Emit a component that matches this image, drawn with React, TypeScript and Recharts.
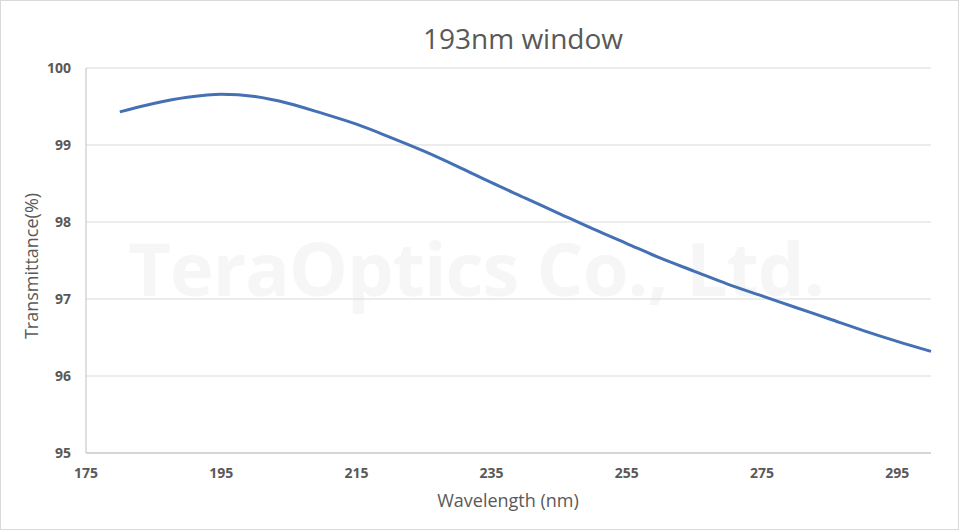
import React from 'react'
import { LineChart, Line, XAxis, YAxis, CartesianGrid } from 'recharts'

const wavelengths = [180, 185, 190, 195, 200, 205, 210, 215, 220, 225, 230, 235, 240, 245, 250, 255, 260, 265, 270, 275, 280, 285, 290, 295, 300]
const transmittance = [99.43, 99.54, 99.62, 99.66, 99.63, 99.54, 99.41, 99.27, 99.1, 98.92, 98.72, 98.51, 98.31, 98.11, 97.91, 97.72, 97.53, 97.36, 97.19, 97.04, 96.89, 96.74, 96.59, 96.45, 96.32]
const xTicks = [175, 195, 215, 235, 255, 275, 295]
const yTicks = [95, 96, 97, 98, 99, 100]

const data = wavelengths.map((w, i) => ({ w, t: transmittance[i] }))

const font = '"Open Sans", "Noto Sans", sans-serif'
const tickStyle = { fill: '#595959', fontSize: 14, fontWeight: 700, fontFamily: font }

export default function App() {
  return (
    <div
      style={{
        position: 'absolute',
        left: 0,
        top: 0,
        width: 959,
        height: 530,
        background: '#fff',
        border: '1px solid #d9d9d9',
        boxSizing: 'border-box',
        fontFamily: font,
      }}
    >
      {/* watermark */}
      <div
        style={{
          position: 'absolute',
          left: 95,
          top: 216,
          width: 760,
          textAlign: 'center',
          fontSize: 74,
          fontWeight: 700,
          color: '#f6f6f6',
          whiteSpace: 'nowrap',
          letterSpacing: -1,
        }}
      >
        TeraOptics Co., Ltd.
      </div>
      <div
        style={{
          position: 'absolute',
          left: 0,
          top: 18,
          width: 1044,
          textAlign: 'center',
          fontSize: 28,
          color: '#595959',
        }}
      >
        193nm window
      </div>
      <div style={{ position: 'absolute', left: -1, top: -1 }}>
        <LineChart width={959} height={530} data={data} margin={{ top: 68, right: 28, left: 26, bottom: 47 }}>
          <CartesianGrid vertical={false} stroke="#d9d9d9" />
          <XAxis
            dataKey="w"
            type="number"
            domain={[175, 300]}
            ticks={xTicks}
            tickLine={false}
            axisLine={{ stroke: '#bfbfbf' }}
            tick={tickStyle}
            tickMargin={9}
            height={30}
          />
          <YAxis
            type="number"
            domain={[95, 100]}
            ticks={yTicks}
            tickLine={false}
            axisLine={{ stroke: '#bfbfbf' }}
            tick={tickStyle}
            tickMargin={9}
            width={60}
          />
          <Line
            type="monotone"
            dataKey="t"
            stroke="#4470b4"
            strokeWidth={3}
            dot={false}
            isAnimationActive={false}
          />
        </LineChart>
      </div>
      <div
        style={{
          position: 'absolute',
          left: 30,
          top: 265,
          transform: 'translate(-50%, -50%) rotate(-90deg)',
          fontSize: 18,
          color: '#595959',
          whiteSpace: 'nowrap',
        }}
      >
        Transmittance(%)
      </div>
      <div
        style={{
          position: 'absolute',
          left: 0,
          top: 487,
          width: 1014,
          textAlign: 'center',
          fontSize: 18,
          color: '#595959',
        }}
      >
        Wavelength (nm)
      </div>
    </div>
  )
}
